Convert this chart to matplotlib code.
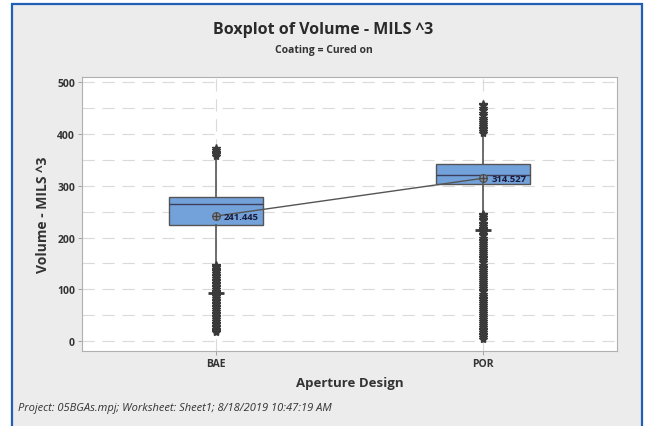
import matplotlib.pyplot as plt
from matplotlib.patches import Rectangle

# data
designs = ['BAE', 'POR']
q1 = [224, 303]
med = [264, 321]
q3 = [278, 342]
whislo = [152, 250]
whishi = [352, 398]
means = [241.445, 314.527]
mean_labels = ['241.445', '314.527']
outliers_bae = [358, 361, 364, 366, 369, 372,
                148, 146, 143, 140, 137, 135, 131, 128, 126, 122, 119, 117, 113, 110,
                107, 104, 100, 97, 95, 93, 90, 87, 84, 80, 77, 74, 71, 68, 65, 62,
                58, 55, 52, 49, 46, 42, 39, 36, 33, 30, 27, 24, 21, 19, 17]
outliers_por = [402, 405, 409, 412, 416, 419, 423, 427, 431, 436, 441, 446, 451, 455, 458,
                246, 243, 240, 236, 233, 229, 226, 222, 219, 216, 214, 211, 207, 204,
                200, 196, 193, 189, 185, 182, 178, 175, 171, 167, 163, 160, 156, 152,
                148, 144, 141, 137, 133, 129, 126, 122, 118, 114, 111, 107, 103, 99,
                96, 92, 88, 84, 81, 77, 73, 69, 66, 62, 58, 54, 51, 47, 43, 39, 36,
                32, 28, 24, 21, 17, 14, 11, 8, 5]
cluster_marks = [93, 214]
yticks = [0, 100, 200, 300, 400, 500]
ygrid = [0, 50, 100, 150, 200, 250, 300, 350, 400, 450, 500]

plt.rcParams['font.family'] = ['Open Sans', 'DejaVu Sans']

fig = plt.figure(figsize=(6.47, 4.27), dpi=100)
fig.patch.set_facecolor('white')
# grey panel with blue frame
fig.patches.append(Rectangle((12/647, -0.01), 630/647, 422/427 + 0.01, transform=fig.transFigure,
                             facecolor='#ECECEC', edgecolor='#1F5FB4', linewidth=1.6, zorder=-1))

ax = fig.add_axes([82/647, 1-352/427, 535/647, 274/427])
ax.set_facecolor('white')

stats = []
for i in range(len(designs)):
    stats.append({'q1': q1[i], 'med': med[i], 'q3': q3[i], 'whislo': whislo[i],
                  'whishi': whishi[i], 'mean': means[i], 'label': designs[i],
                  'fliers': [outliers_bae, outliers_por][i]})

pos = [1, 2]
ax.bxp(stats, positions=pos, widths=0.35, patch_artist=True, showcaps=False,
       boxprops=dict(facecolor='#73A2DA', edgecolor='#555555', linewidth=1),
       medianprops=dict(color='#3d3d5c', linewidth=1),
       whiskerprops=dict(color='#555555', linewidth=1.2),
       flierprops=dict(marker='*', markersize=6, markerfacecolor='#3a3a3a',
                       markeredgecolor='#3a3a3a', linestyle='none'),
       zorder=3)

ax.plot(pos, means, color='#555555', linewidth=1, zorder=4)
ax.plot(pos, means, linestyle='none', marker='o', markersize=5.5, markerfacecolor='#8a9bb5',
        markeredgecolor='#555555', zorder=5)
ax.plot(pos, means, linestyle='none', marker='+', markersize=5.5, color='#444444', zorder=6)
for x, m, lab in zip(pos, means, mean_labels):
    ax.text(x + 0.03, m, lab, fontsize=6.8, color='#1a1a3a', va='center', ha='left',
            fontweight='bold', zorder=7)
ax.plot(pos, cluster_marks, linestyle='none', marker='_', markersize=11,
        markeredgewidth=2, color='#3a3a3a', zorder=4)

ax.set_xlim(0.5, 2.5)
ax.set_ylim(-19, 510)
ax.set_xticks(pos)
ax.set_xticklabels(designs, fontsize=7.5, fontweight='bold', color='#333333')
ax.set_yticks(yticks)
ax.set_yticklabels([str(t) for t in yticks], fontsize=7.5, fontweight='bold', color='#333333')
for g in ygrid:
    ax.axhline(g, color='#dadada', linestyle=(0, (11, 7)), linewidth=0.8, zorder=0)
for x in pos:
    ax.axvline(x, color='#dadada', linestyle=(0, (11, 7)), linewidth=0.8, zorder=0)
ax.tick_params(length=3, width=0.6, color='#999999', pad=2)
for s in ax.spines.values():
    s.set_color('#b0b0b0')
    s.set_linewidth(0.8)

ax.set_xlabel('Aperture Design', fontsize=9.5, fontweight='bold', color='#333333', labelpad=5)
ax.set_ylabel('Volume - MILS ^3', fontsize=10, fontweight='bold', color='#333333', labelpad=5)

fig.text(0.5, 1-30/427, 'Boxplot of Volume - MILS ^3', ha='center', va='center',
         fontsize=11.5, fontweight='bold', color='#2a2a2a')
fig.text(0.5, 1-50/427, 'Coating = Cured on', ha='center', va='center',
         fontsize=7.5, fontweight='bold', color='#333333')
fig.text(18/647, 1-409/427, 'Project: 05BGAs.mpj; Worksheet: Sheet1; 8/18/2019 10:47:19 AM',
         ha='left', va='center', fontsize=8, style='italic', color='#333333')

fig.savefig('out.png', dpi=100)
